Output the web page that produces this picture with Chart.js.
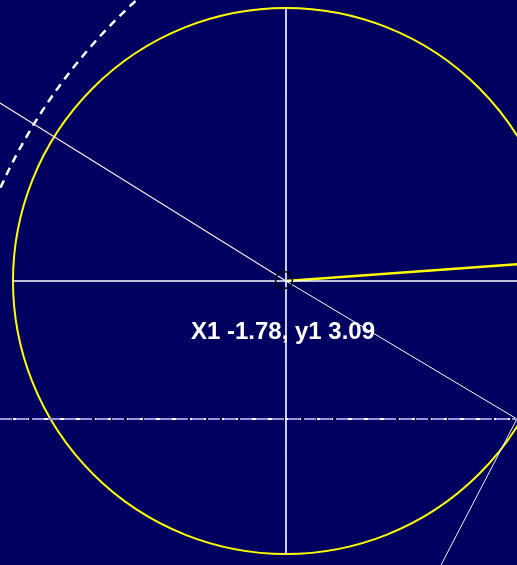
<!DOCTYPE html>
<html>
<head>
<meta charset="utf-8">
<script src="https://cdn.jsdelivr.net/npm/chart.js@4.4.1/dist/chart.umd.min.js"></script>
<style>
  html, body { margin: 0; padding: 0; background: #000060; overflow: hidden; }
  canvas { display: block; }
</style>
</head>
<body>
<canvas id="geoChart" width="517" height="565"></canvas>
<script>
// point X1 (centre of the unit circle) and its label values
const centre = { x: 0, y: 0 };
const centreLabel = { x1: -1.78, y1: 3.09 };
// point where the radius meets the dashed horizontal line
const pointP = { x: 0.846, y: -0.5055 };

// circles: [cx, cy, r]
const unitCircle = [0, 0, 1];
const dashedCircle = [0.846, -0.5055, 2.073];

// straight segments
const verticalAxis = [{ x: 0, y: 1 }, { x: 0, y: -1 }];
const horizontalAxis = [{ x: -1, y: 0 }, { x: 1, y: 0 }];
const upperLeftRay = [{ x: 0, y: 0 }, { x: -1.0476, y: 0.652 }];
const radiusToP = [{ x: 0, y: 0 }, pointP];
const yellowRadius = [{ x: 0, y: 0 }, { x: 0.9974, y: 0.0721 }];
const dashedLevel = [{ x: -1.0476, y: -0.5055 }, pointP];
const lowerRay = [pointP, { x: 0.568, y: -1.04 }];

const xRange = [-1.0476, 0.8462];
const yRange = [-1.0403, 1.0293];

const circlePlugin = {
    id: 'circles',
    beforeDatasetsDraw(chart) {
        const ctx = chart.ctx;
        const xs = chart.scales.x;
        const ys = chart.scales.y;
        function drawCircle(c, color, width, dash) {
            const px = xs.getPixelForValue(c[0]);
            const py = ys.getPixelForValue(c[1]);
            const r = xs.getPixelForValue(c[0] + c[2]) - px;
            ctx.save();
            ctx.strokeStyle = color;
            ctx.lineWidth = width;
            ctx.setLineDash(dash);
            ctx.beginPath();
            ctx.arc(px, py, r, 0, Math.PI * 2);
            ctx.stroke();
            ctx.restore();
        }
        drawCircle(dashedCircle, '#ffffff', 2.5, [8, 6]);
        drawCircle(unitCircle, '#ffff00', 2, []);
    },
    afterDatasetsDraw(chart) {
        const ctx = chart.ctx;
        const px = chart.scales.x.getPixelForValue(centre.x);
        const py = chart.scales.y.getPixelForValue(centre.y);
        ctx.save();
        ctx.fillStyle = '#ffffff';
        ctx.font = 'bold 24px "Liberation Sans", Arial, sans-serif';
        ctx.textAlign = 'center';
        ctx.textBaseline = 'middle';
        ctx.fillText(`X1 ${centreLabel.x1.toFixed(2)}, y1 ${centreLabel.y1.toFixed(2)}`, px - 3, py + 51);
        // centre marker
        ctx.strokeStyle = '#000000';
        ctx.lineWidth = 1.5;
        ctx.beginPath();
        ctx.arc(px - 2, py - 1, 8.5, 0, Math.PI * 2);
        ctx.stroke();
        ctx.restore();
    }
};

function seg(data, color, width, dash) {
    return {
        data: data,
        showLine: true,
        borderColor: color,
        borderWidth: width,
        borderDash: dash || [],
        pointRadius: 0,
        tension: 0,
        fill: false
    };
}

const ctx = document.getElementById('geoChart').getContext('2d');
const geoChart = new Chart(ctx, {
    type: 'scatter',
    data: {
        datasets: [
            seg(dashedLevel, '#a090e0', 2, [12, 4]),
            seg(dashedLevel, '#ffffff', 2, [10, 3, 3, 3]),
            seg(verticalAxis, '#e8e8ff', 1),
            seg(horizontalAxis, '#ffffff', 1.5),
            seg(upperLeftRay, '#ffe4e4', 1.2),
            seg(radiusToP, '#ffffff', 1),
            seg(lowerRay, '#f0f0ff', 1),
            seg(yellowRadius, '#ffff00', 2.5)
        ]
    },
    options: {
        responsive: false,
        animation: false,
        devicePixelRatio: 1,
        layout: { padding: 0, autoPadding: false },
        plugins: {
            legend: { display: false },
            tooltip: { enabled: false }
        },
        scales: {
            x: { type: 'linear', display: false, min: xRange[0], max: xRange[1] },
            y: { type: 'linear', display: false, min: yRange[0], max: yRange[1] }
        }
    },
    plugins: [circlePlugin]
});
</script>
</body>
</html>
